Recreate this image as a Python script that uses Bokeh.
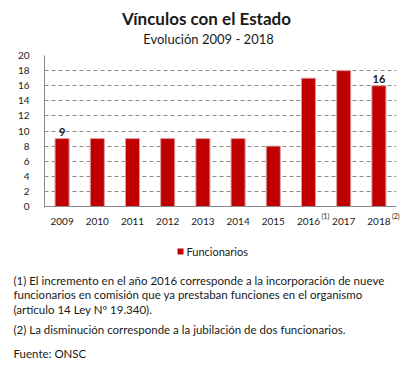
from bokeh.plotting import figure
from bokeh.layouts import column
from bokeh.models import ColumnDataSource, FactorRange, Range1d, FixedTicker, Span
from bokeh.embed import file_html
from bokeh.resources import INLINE
from bokeh.core.properties import value

# ---- data ----
years = ["2009", "2010", "2011", "2012", "2013", "2014", "2015", "2016", "2017", "2018"]
funcionarios = [9, 9, 9, 9, 9, 9, 8, 17, 18, 16]
label_years = ["2009", "2018"]
label_values = [9, 16]
label_texts = ["9", "16"]
super_years = ["2016", "2018"]
super_texts = ["(1)", "(2)"]
y_ticks = [0, 2, 4, 6, 8, 10, 12, 14, 16, 18, 20]

title_text = "Vínculos  con el Estado"
subtitle_text = "Evolución 2009 - 2018"
series_name = "Funcionarios"
notes = [
    "(1) El incremento en el año 2016 corresponde a la incorporación de nueve",
    "funcionarios en comisión que ya prestaban funciones en el organismo",
    "(artículo 14 Ley Nº 19.340).",
    "(2) La disminución corresponde a la jubilación de dos funcionarios.",
    "Fuente: ONSC",
]

FONT = "Lato"
TXT = "#1a1a1a"
BAR = "#C00000"
GRID = "#8a8a8a"
W = 409
LEFT, RIGHT = 44, 13
CAT_W = (W - LEFT - RIGHT) / len(years)   # pixel width of one category band


def blank(fig):
    fig.outline_line_color = None
    fig.axis.visible = False
    fig.grid.visible = False
    fig.background_fill_color = "white"
    fig.border_fill_color = "white"
    return fig


# ---- A: titles (page rows 0..48) ----
A = blank(figure(width=W, height=48, x_range=Range1d(0, W), y_range=Range1d(48, 0),
                 output_backend="svg", toolbar_location=None, min_border=0))
A.text(x=[208], y=[18], text=[title_text], text_align="center", text_baseline="middle",
       text_font=value(FONT), text_font_style="bold", text_font_size="17px", text_color=TXT)
A.text(x=[208], y=[38], text=[subtitle_text], text_align="center", text_baseline="middle",
       text_font=value(FONT), text_font_size="13px", text_color=TXT)

# ---- B: chart (page rows 48..211) ----
xr = FactorRange(*years)
B = figure(width=W, height=163, x_range=xr, y_range=Range1d(-0.13, 20),
           output_backend="svg", toolbar_location=None,
           min_border_left=LEFT, min_border_right=RIGHT, min_border_top=7,
           min_border_bottom=4)
B.outline_line_color = None
B.background_fill_color = "white"
B.border_fill_color = "white"
B.xaxis.visible = False

src = ColumnDataSource(dict(x=years, top=funcionarios))
B.vbar(x="x", top="top", width=0.4, source=src, fill_color=BAR,
       line_color="#dca0a0", line_width=1)

B.xgrid.grid_line_color = None
B.ygrid.grid_line_color = GRID
B.ygrid.grid_line_dash = "4 3"
B.yaxis.ticker = FixedTicker(ticks=y_ticks)
ya = B.yaxis[0]
ya.axis_line_color = GRID
ya.major_tick_line_color = None
ya.minor_tick_line_color = None
ya.major_label_text_font = FONT
ya.major_label_text_font_size = "10px"
ya.major_label_text_color = TXT
ya.major_label_standoff = 9
B.add_layout(Span(location=0, dimension="width", line_color=GRID, line_width=1))

lsrc = ColumnDataSource(dict(x=label_years, y=label_values, t=label_texts))
B.text(x="x", y="y", text="t", source=lsrc, text_align="center",
       text_baseline="bottom", y_offset=-3, text_font=value(FONT),
       text_font_style="bold", text_font_size="11px", text_color=TXT)

# ---- C1: year labels (page rows 211..232), full width; category centres = index + 0.5 ----
C1 = blank(figure(width=W, height=21,
                  x_range=Range1d(-LEFT / CAT_W, (W - LEFT) / CAT_W),
                  y_range=Range1d(232, 211),
                  output_backend="svg", toolbar_location=None, min_border=0))
year_pos = [years.index(y) + 0.5 for y in years]
super_pos = [years.index(y) + 0.5 for y in super_years]
C1.text(x=year_pos, y=[221] * len(years), text=years, text_align="center",
        text_baseline="middle", text_font=value(FONT), text_font_size="10px",
        text_color=TXT)
C1.text(x=super_pos, y=[215.5] * len(super_years), text=super_texts, x_offset=13,
        text_align="left", text_baseline="middle", text_font=value(FONT),
        text_font_size="7px", text_color=TXT)

# ---- C2: legend and notes (page rows 232..368) ----
C2 = blank(figure(width=W, height=136, x_range=Range1d(0, W), y_range=Range1d(368, 232),
                  output_backend="svg", toolbar_location=None, min_border=0))
C2.scatter(x=[180], y=[251], marker="square", size=6, fill_color=BAR, line_color=None)
C2.text(x=[186], y=[251], text=[series_name], text_align="left", text_baseline="middle",
        text_font=value(FONT), text_font_size="11px", text_color=TXT)
note_y = [280, 294, 309, 329, 353]
C2.text(x=[13] * len(notes), y=note_y, text=notes, text_align="left",
        text_baseline="middle", text_font=value(FONT), text_font_size="11.5px",
        text_color=TXT)

layout = column(A, column(B, spacing=0), C1, C2, spacing=0)
open("out.html", "w").write(file_html(layout, INLINE))
